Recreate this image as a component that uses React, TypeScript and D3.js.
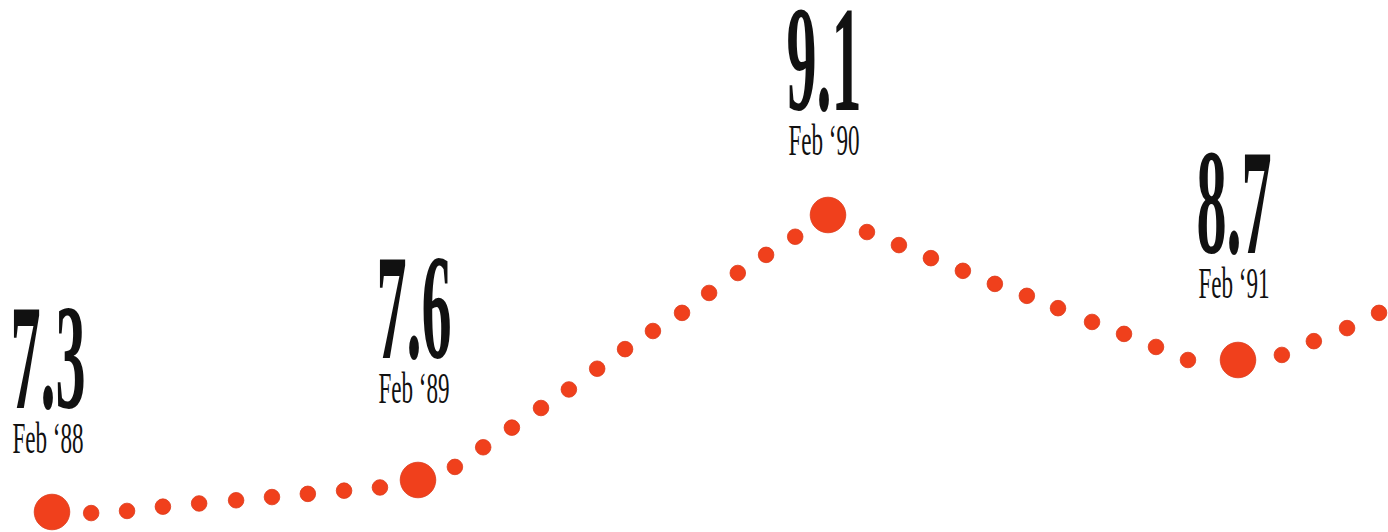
import React from "react";
import * as d3 from "d3";

// Key readings (labelled big dots)
const keyDates = ["Feb ‘88", "Feb ‘89", "Feb ‘90", "Feb ‘91"];
const keyValues = [7.3, 7.6, 9.1, 8.7];
const keyTimes = [0, 1, 2, 3]; // years since Feb 1988

// Intermediate readings (small dots)
const dotTimes = [
  0.107, 0.205, 0.303, 0.402, 0.503, 0.601, 0.699, 0.798, 0.896,
  1.09, 1.159, 1.229, 1.3, 1.368, 1.437, 1.505, 1.573, 1.644, 1.71, 1.78, 1.849, 1.92,
  2.095, 2.173, 2.251, 2.329, 2.407, 2.485, 2.561, 2.644, 2.722, 2.8, 2.878,
  3.107, 3.185, 3.266, 3.344,
];
const dotValues = [
  7.29, 7.31, 7.35, 7.38, 7.41, 7.44, 7.47, 7.5, 7.53,
  7.72, 7.9, 8.08, 8.26, 8.43, 8.62, 8.73, 8.78, 8.83, 8.885, 8.94, 8.99, 9.04,
  9.053, 9.017, 8.981, 8.946, 8.91, 8.877, 8.843, 8.805, 8.772, 8.736, 8.7,
  8.714, 8.752, 8.788, 8.83,
];

// layout (not data): how far above each big dot its number's baseline sits
const labelLift = [104, 122, 105, 107];

const W = 1388;
const H = 532;
const RED = "#f0401c";

export default function App() {
  const x = d3.scaleLinear().domain(keyTimes).range([52, 418, 828, 1238]);
  const y = d3.scaleLinear().domain([7.3, 7.6, 8.7, 9.1]).range([512, 480, 360, 215]);

  const numFont = "'Liberation Serif', 'Times New Roman', serif";

  return (
    <svg
      width={W}
      height={H}
      style={{ position: "fixed", left: 0, top: 0, background: "#fff" }}
    >
      <rect width={W} height={H} fill="#fff" />
      <g>
        {dotTimes.map((t, i) => (
          <circle key={"s" + i} cx={x(t)} cy={y(dotValues[i])} r={7.8} fill={RED} stroke="#dc3a1a" strokeWidth={0.8} />
        ))}
        {keyTimes.map((t, i) => (
          <circle key={"k" + i} cx={x(t)} cy={y(keyValues[i])} r={17.8} fill={RED} stroke="#dc3a1a" strokeWidth={0.8} />
        ))}
      </g>
      <g fill="#111">
        {keyTimes.map((t, i) => {
          const cx = x(t) - 4;
          const base = y(keyValues[i]) - labelLift[i];
          return (
            <g key={"l" + i}>
              <text
                transform={`translate(${cx},${base}) scale(0.43,1.08)`}
                textAnchor="middle"
                fontFamily={numFont}
                fontSize={140}
                fontWeight={700}
              >
                {d3.format(".1f")(keyValues[i])}
              </text>
              <text
                transform={`translate(${cx},${base + 45}) scale(0.55,1.05)`}
                textAnchor="middle"
                fontFamily={numFont}
                fontSize={42}
              >
                {keyDates[i]}
              </text>
            </g>
          );
        })}
      </g>
    </svg>
  );
}
